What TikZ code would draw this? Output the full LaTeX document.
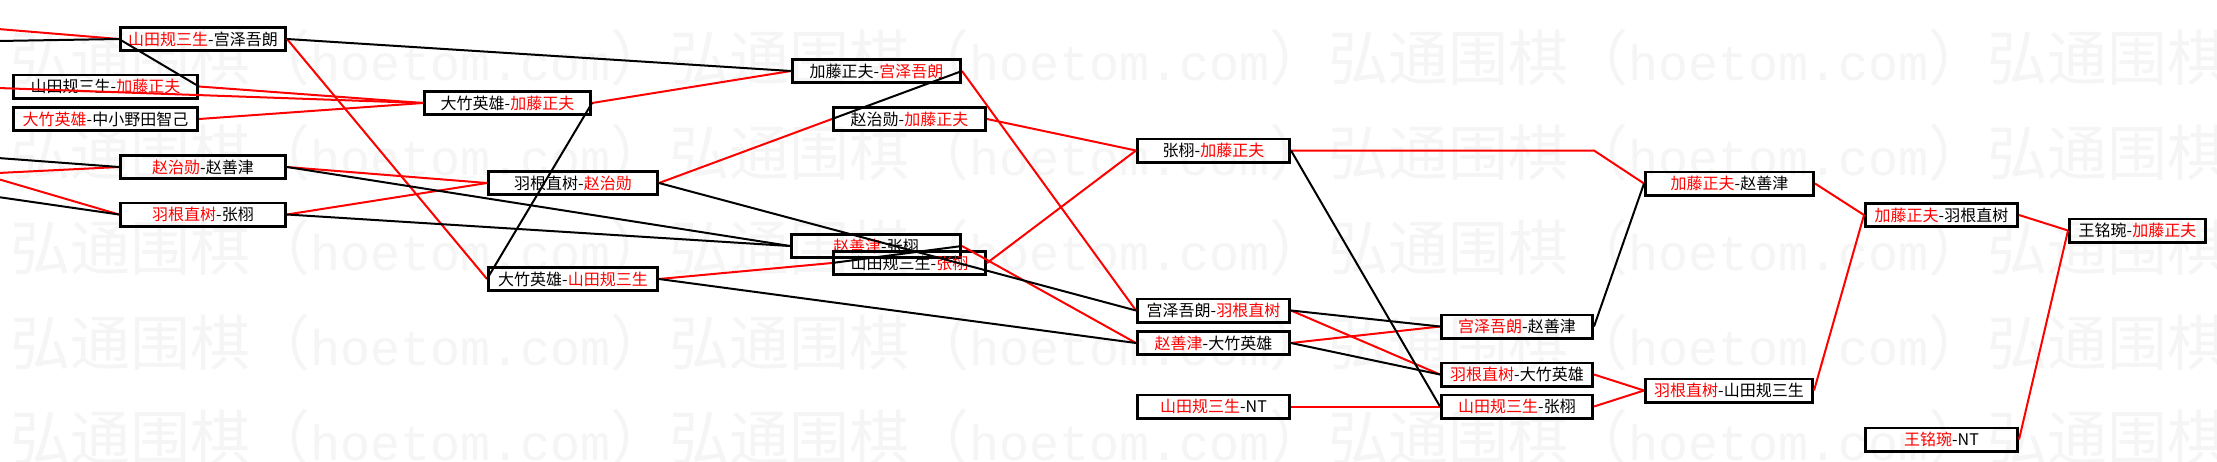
\documentclass[tikz,border=0pt]{standalone}
\usepackage{fontspec}
\setmainfont{Noto Sans CJK SC}
\newfontfamily\wmlatin{Liberation Mono}

\newcommand\winner[1]{\textcolor{red}{#1}}

\tikzset{
    game/.style={draw, line width=2.6pt, minimum width=#1, minimum height=23.4pt,
        inner sep=0pt, font=\fontsize{16}{18}\selectfont},
    game/.default=152.4pt,
    win/.style={red, line width=2pt},
    lose/.style={black, line width=2pt},
    wmark/.style={anchor=west, inner sep=0pt, text=black!4, font=\fontsize{60}{60}\selectfont},
}

\begin{document}
\begin{tikzpicture}[x=1pt, y=-1pt]
    % Canvas
    \useasboundingbox (0,0) rectangle (2217,461);
    \fill[white] (0,0) rectangle (2217,461);

    % Watermark
    \foreach \wy in {58,153,248,343,438} {
        \foreach \wk in {0,1,2,3} {
            \node[wmark] (wm-\wy-\wk) at (10+\wk*659,\wy) {弘通围棋（{\wmlatin\fontsize{50}{50}\selectfont hoetom.com}）};
        }
    }

    % Loose ends coming in from the left
    \coordinate (inA1) at (-2,29);
    \coordinate (inA2) at (-2,41);
    \coordinate (inF)  at (-2,88);
    \coordinate (inD1) at (-2,158);
    \coordinate (inD2) at (-2,173);
    \coordinate (inE1) at (-2,179);
    \coordinate (inE2) at (-2,197);

    % First columns
    \node[game=184.4pt] (mB) at (105.5,86.5) {山田规三生-\winner{加藤正夫}};
    \node[game=184.4pt] (mC) at (105.5,119) {\winner{大竹英雄}-中小野田智己};
    \node[game=165.4pt] (mA) at (203,39) {\winner{山田规三生}-宫泽吾朗};
    \node[game=165.4pt] (mD) at (203,167) {\winner{赵治勋}-赵善津};
    \node[game=165.4pt] (mE) at (203,214.5) {\winner{羽根直树}-张栩};
    \node[game=166.4pt] (mF) at (507.5,103) {大竹英雄-\winner{加藤正夫}};
    \node[game=169.4pt] (mG) at (573,183) {羽根直树-\winner{赵治勋}};
    \node[game=169.4pt] (mK) at (573,279) {大竹英雄-\winner{山田规三生}};

    % Middle columns
    \node[game=168.4pt] (mH) at (876.5,71) {加藤正夫-\winner{宫泽吾朗}};
    \node[game=169.4pt] (mL) at (876,246) {\winner{赵善津}-张栩};
    \node[game] (mI) at (909.5,119) {赵治勋-\winner{加藤正夫}};
    \node[game] (mM) at (909.5,263) {山田规三生-\winner{张栩}};
    \node[game] (mJ) at (1213.5,150.5) {张栩-\winner{加藤正夫}};
    \node[game] (mN) at (1213.5,310.5) {宫泽吾朗-\winner{羽根直树}};
    \node[game] (mO) at (1213.5,343) {\winner{赵善津}-大竹英雄};
    \node[game] (mP) at (1213.5,406.5) {\winner{山田规三生}-NT};

    % Last columns
    \node[game=151.4pt] (mQ) at (1517,326.5) {\winner{宫泽吾朗}-赵善津};
    \node[game=151.4pt] (mR) at (1517,374.5) {\winner{羽根直树}-大竹英雄};
    \node[game=151.4pt] (mS) at (1517,406.5) {\winner{山田规三生}-张栩};
    \node[game=168.4pt] (mT) at (1729.5,183.5) {\winner{加藤正夫}-赵善津};
    \node[game=167.4pt] (mX) at (1729,390.5) {\winner{羽根直树}-山田规三生};
    \node[game] (mU) at (1941.5,215) {\winner{加藤正夫}-羽根直树};
    \node[game] (mW) at (1941.5,439.5) {\winner{王铭琬}-NT};
    \node[game=136.4pt] (mV) at (2137.5,230.5) {王铭琬-\winner{加藤正夫}};

    % Winner lines
    \foreach \a/\b in {inA1/mA, inD2/mD, inE1/mE, inF/mF} {
        \draw[win] (\a) -- (\b.west);
    }
    \foreach \a/\b in {mB/mF, mC/mF, mA/mK, mD/mG, mE/mG, mF/mH, mG/mI, mK/mM,
                       mL/mO, mH/mN, mI/mJ, mM/mJ, mN/mR, mO/mQ, mP/mS, mR/mX,
                       mS/mX, mT/mU, mX/mU, mU/mV, mW/mV} {
        \draw[win] (\a.east) -- (\b.west);
    }
    \draw[win] (mJ.east) -- (mJ.east -| mQ.east) -- (mT.west);

    % Loser lines
    \foreach \a/\b in {inA2/mA, inD1/mD, inE2/mE} {
        \draw[lose] (\a) -- (\b.west);
    }
    \foreach \a/\b in {mB/mA, mA/mH, mD/mL, mE/mL, mF/mK, mG/mN, mK/mO, mH/mI,
                       mL/mM, mJ/mS, mN/mQ, mO/mR, mQ/mT} {
        \draw[lose] (\a.east) -- (\b.west);
    }
\end{tikzpicture}
\end{document}
